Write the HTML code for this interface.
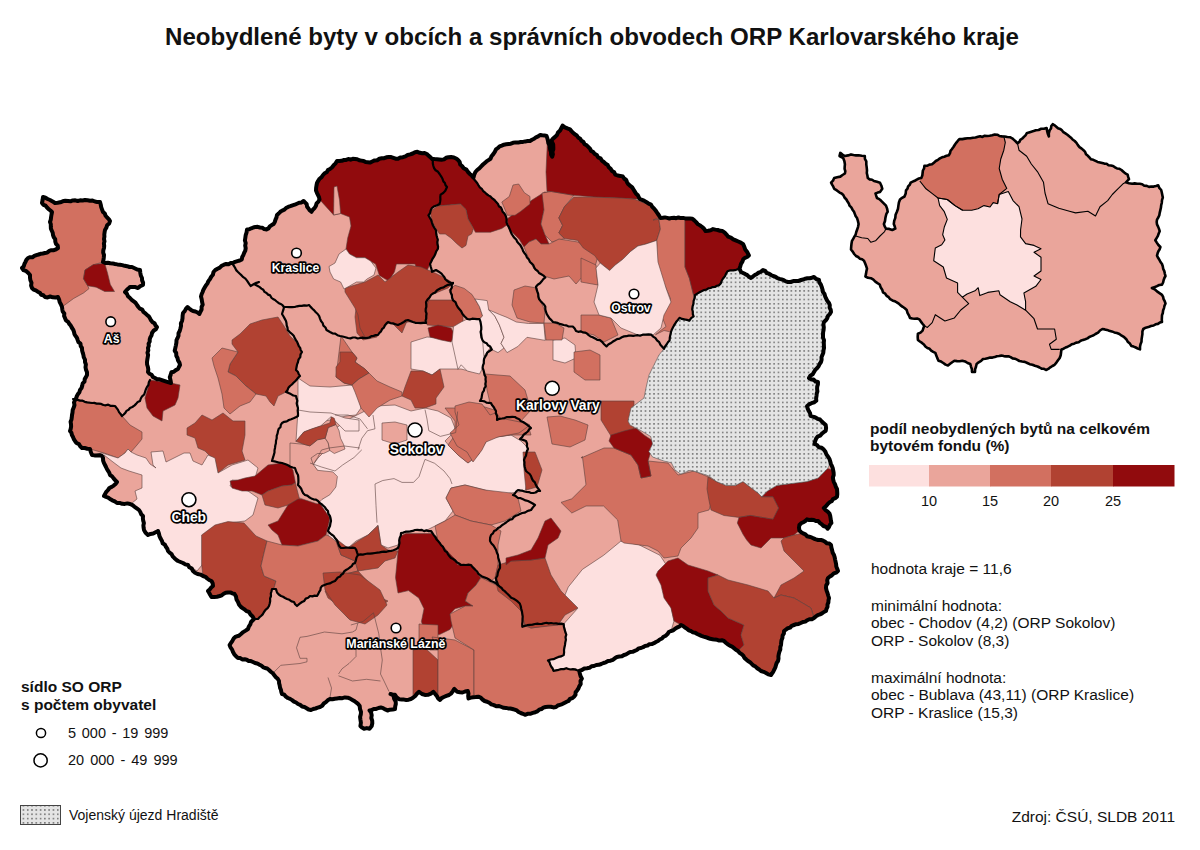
<!DOCTYPE html>
<html><head><meta charset="utf-8"><title>Neobydlené byty</title>
<style>
html,body{margin:0;padding:0;background:#fff;}
body{width:1200px;height:850px;overflow:hidden;position:relative;}
svg{position:absolute;left:0;top:0;font-family:"Liberation Sans",sans-serif;}
.cl{font-weight:bold;}
.lg{font-size:14.5px;fill:#111;}
</style></head><body>
<svg width="1200" height="850" viewBox="0 0 1200 850">
<defs><pattern id="dots" patternUnits="userSpaceOnUse" x="0.3" y="1.8" width="4.29" height="4.29"><rect width="4.29" height="4.29" fill="#e4e4e4"/><rect x="1.1" y="1.1" width="1.15" height="1.15" fill="#151515"/></pattern><clipPath id="mainclip"><polygon points="43,197 50,200 55,203 68,201 85,200 100,202 103,212 110,221 105,230 104,248 103,262 115,264 132,267 140,270 142,278 143,285 138,288 130,287 125,292 130,298 137,305 147,315 157,327 152,333 148,348 147,362 148,372 155,378 171,383 169.8,377.2 171.4,372.3 178,369 180,365 177.5,358 174.7,350.8 176.4,342.6 179.7,331 182,321 183,313 187.5,307 193,311 199.4,314 202.7,304.7 201,296.5 204.4,288 210,279 215.3,270 224,264.7 233,263 241.8,259.4 245.3,250.6 245.3,238 247,229.4 257.7,226.8 266.5,229.4 273.6,224 277,215 286,208 294.7,204.7 303.6,201 311.5,211.8 319.5,199.4 316,190.6 317,183 323,175 330,169 337,161 344,160 355,159 370,162.6 379.4,158.8 388.8,157 398,158.8 407.6,155 415,152.2 424.6,153 432,158.8 441.5,159.8 451,157 456.6,158.8 462,166 468,172 473.5,177.6 475.4,172 483,164.5 490.5,158.8 496,149.4 501.8,145.6 513,142.8 520.6,142 530,141 540,135 546.6,136 547.5,138.8 550.3,150 552.2,156.7 553.2,144.5 551.3,140.7 557,135 562.6,125.6 570,129.4 581.4,140.7 594.6,153.9 607.7,165 615.3,174.6 622.8,176.5 630.3,185.9 637.9,195.3 639.7,199 651,204.7 656.7,212.2 660.4,217.9 671.7,217.9 683,217.9 692.4,218.8 700,225.4 705.6,231 713,229.1 722.5,231 728.2,236.7 735.7,240.4 743.2,244.2 747,251.7 748.9,255.5 743.2,259.3 739.5,268.7 741,272 751,278 763,270 771,275 788,282 801,280 814,277 819,280 823,292 829,303 831,312 824,322 823,335 824,348 821,362 814,372 809,378 818,382 816.3,400.7 807,406.3 810.6,415.8 820,419.5 825.7,425 825.7,430.8 816.3,438.3 814.4,444 823.8,449.6 829.5,459 833.2,470.3 833.2,479.7 837,489 837,496.7 829.5,502.3 823.8,508 829.5,513.6 831.4,523 827.6,528.7 818.2,521 807,519.3 799.4,525 799.4,530.5 807,536.2 818.2,540 821,540 831,545 834,555 838,571 828,578 826,588 829,598 826,611 814,618 794,625 784,631 781,645 778,661 771,675 761,671 748,661 738,651 724,641 708,638 691,631 681,625 671,631 658,641 641,648 624,655 608,661 594,666 587,668.2 579.3,670.8 581.9,678.6 579.3,686.3 574,696.7 566.3,701.9 556,707 545.6,707 535.3,712.2 525,714.8 514.6,709.6 501.6,707 491.3,704.4 478.3,696.7 468.5,698.5 467.8,691 462.5,692.5 457.3,691.8 454.3,688.8 451.3,693.3 443.8,697 440,700 437,696.3 433.3,691.8 428,694.8 422,694 419,691.8 413,697.8 406.3,700 399.5,699.3 395,694.8 390.5,694 393.5,695.5 395.7,701.5 395,709 387.5,710.5 380.8,707.5 373.8,709 369.5,710.4 371.7,715.3 371.7,726 369.5,728.7 364,728.7 360.4,726 360.4,719.5 361,711.8 359.7,706 354.7,701.2 347.7,697.7 337,698.4 330,699 320,707 311,710 298,704 282,694 279,681 269,670 253,662 238,658 233,652 229.6,645 233.6,638.6 241,634 248,629 251,622 254,619 249,612 241,607 238,602 234.5,594 228,592.5 219.7,596 211.5,597 208,591 213,586 211.5,581 203,576 195,572.7 188,565 178,561 168,551 162,541 158,531 148,535 144,530 143,516 139,510 130,504 117,503 110,499 104,496 108,490 117,482 110,475 105,465 102,456 92,455 90,449 82,448 75,441 70,431 72,415 75,400 80,390 87,375 85,362 82,348 77,338 72,328 65,318 62,307 58,297 45,297 32,288 30,275 22,268 28,258 45,253 58,248 53,235 50,222 52,212 42,203"/></clipPath></defs>
<polygon points="43,197 50,200 55,203 68,201 85,200 100,202 103,212 110,221 105,230 104,248 103,262 115,264 132,267 140,270 142,278 143,285 138,288 130,287 125,292 130,298 137,305 147,315 157,327 152,333 148,348 147,362 148,372 155,378 171,383 169.8,377.2 171.4,372.3 178,369 180,365 177.5,358 174.7,350.8 176.4,342.6 179.7,331 182,321 183,313 187.5,307 193,311 199.4,314 202.7,304.7 201,296.5 204.4,288 210,279 215.3,270 224,264.7 233,263 241.8,259.4 245.3,250.6 245.3,238 247,229.4 257.7,226.8 266.5,229.4 273.6,224 277,215 286,208 294.7,204.7 303.6,201 311.5,211.8 319.5,199.4 316,190.6 317,183 323,175 330,169 337,161 344,160 355,159 370,162.6 379.4,158.8 388.8,157 398,158.8 407.6,155 415,152.2 424.6,153 432,158.8 441.5,159.8 451,157 456.6,158.8 462,166 468,172 473.5,177.6 475.4,172 483,164.5 490.5,158.8 496,149.4 501.8,145.6 513,142.8 520.6,142 530,141 540,135 546.6,136 547.5,138.8 550.3,150 552.2,156.7 553.2,144.5 551.3,140.7 557,135 562.6,125.6 570,129.4 581.4,140.7 594.6,153.9 607.7,165 615.3,174.6 622.8,176.5 630.3,185.9 637.9,195.3 639.7,199 651,204.7 656.7,212.2 660.4,217.9 671.7,217.9 683,217.9 692.4,218.8 700,225.4 705.6,231 713,229.1 722.5,231 728.2,236.7 735.7,240.4 743.2,244.2 747,251.7 748.9,255.5 743.2,259.3 739.5,268.7 741,272 751,278 763,270 771,275 788,282 801,280 814,277 819,280 823,292 829,303 831,312 824,322 823,335 824,348 821,362 814,372 809,378 818,382 816.3,400.7 807,406.3 810.6,415.8 820,419.5 825.7,425 825.7,430.8 816.3,438.3 814.4,444 823.8,449.6 829.5,459 833.2,470.3 833.2,479.7 837,489 837,496.7 829.5,502.3 823.8,508 829.5,513.6 831.4,523 827.6,528.7 818.2,521 807,519.3 799.4,525 799.4,530.5 807,536.2 818.2,540 821,540 831,545 834,555 838,571 828,578 826,588 829,598 826,611 814,618 794,625 784,631 781,645 778,661 771,675 761,671 748,661 738,651 724,641 708,638 691,631 681,625 671,631 658,641 641,648 624,655 608,661 594,666 587,668.2 579.3,670.8 581.9,678.6 579.3,686.3 574,696.7 566.3,701.9 556,707 545.6,707 535.3,712.2 525,714.8 514.6,709.6 501.6,707 491.3,704.4 478.3,696.7 468.5,698.5 467.8,691 462.5,692.5 457.3,691.8 454.3,688.8 451.3,693.3 443.8,697 440,700 437,696.3 433.3,691.8 428,694.8 422,694 419,691.8 413,697.8 406.3,700 399.5,699.3 395,694.8 390.5,694 393.5,695.5 395.7,701.5 395,709 387.5,710.5 380.8,707.5 373.8,709 369.5,710.4 371.7,715.3 371.7,726 369.5,728.7 364,728.7 360.4,726 360.4,719.5 361,711.8 359.7,706 354.7,701.2 347.7,697.7 337,698.4 330,699 320,707 311,710 298,704 282,694 279,681 269,670 253,662 238,658 233,652 229.6,645 233.6,638.6 241,634 248,629 251,622 254,619 249,612 241,607 238,602 234.5,594 228,592.5 219.7,596 211.5,597 208,591 213,586 211.5,581 203,576 195,572.7 188,565 178,561 168,551 162,541 158,531 148,535 144,530 143,516 139,510 130,504 117,503 110,499 104,496 108,490 117,482 110,475 105,465 102,456 92,455 90,449 82,448 75,441 70,431 72,415 75,400 80,390 87,375 85,362 82,348 77,338 72,328 65,318 62,307 58,297 45,297 32,288 30,275 22,268 28,258 45,253 58,248 53,235 50,222 52,212 42,203" fill="#eaa59b"/>
<g clip-path="url(#mainclip)" stroke="#5a3f3d" stroke-width="0.6" stroke-linejoin="round">
<polygon points="43,197 50,200 55,203 68,201 85,200 100,202 103,212 110,221 105,230 104,248 103,262 93,265 85,270 83.5,278.8 87.7,285.8 89,288.6 83.5,293 73.6,298.5 62,307 58,297 45,297 32,288 30,275 22,268 28,258 45,253 58,248 53,235 50,222 52,212 42,203" fill="#d27060"/>
<polygon points="85,270 93.4,264.6 104.7,263.2 107.5,273 110.3,284.4 114.5,291.5 104.7,291.5 96.2,287.2 87.7,285.8 83.5,278.8" fill="#910b0d"/>
<polygon points="75,400 92,403 115,406 122,416 130,425 142,432 142,439 137,445 131,452 128,449 125,453 118,458 104,453 90,449 82,448 75,441 70,431 72,415" fill="#d27060"/>
<polygon points="150,380 171,383 180,385 178,398 175,405 163,411 162,421 153,416 147,408 145,398 148,388" fill="#910b0d"/>
<polygon points="187,428 195,423 202,415 212,420 223,413 233,421 245,421 245,435 242,451 245,460 228,465 218,473 215,461 205,451 198,448 195,438 187,435" fill="#b14232"/>
<polygon points="92,455 102,453 118,458 125,453 128,449 131,452 137,455 146,458 150,464 156,468 153,465 151,452 163,451 166,462 184,453 190,453 193,461 202,465 208,455 215,458 218,473 232,465 248,460 258,468 255,478 245,481 232,480 230,486 248,491 258,498 253,515 245,521 228,523 215,526 203,535 208,545 215,548 205,555 202,565 197,571 188,565 178,561 168,551 162,541 158,531 148,535 144,530 143,516 139,510 130,504 117,503 110,499 104,496 108,490 117,482 110,475 105,465 102,456" fill="#fde0df"/>
<polygon points="104,455 113,462 121,468 129,471 142,475 142,482 142,488 135,491 137,499 132,503 117,503 110,499 104,496 108,490 117,482 110,475 105,465" fill="#eaa59b"/>
<polygon points="230,481 238,480 245,478 255,476 268,465 282,463 295,468 298,481 292,485 282,486 268,491 262,495 252,491 242,491 232,488" fill="#910b0d"/>
<polygon points="262,495 268,491 282,486 292,485 298,481 300,500 288,505 278,508 265,505" fill="#b14232"/>
<polygon points="268,525 278,521 288,505 298,499 318,498 325,508 330,518 326,535 318,541 298,546 282,545 278,535 272,530" fill="#910b0d"/>
<polygon points="201.6,535 215,525 228,521.6 244,523 256,536 267,541 264,553 261,566 264,576 276,581 274,588 272,589 271,596 269,606 264,612 257,619 254,619 249,612 241,607 238,602 234.5,594 228,592.5 219.7,596 211.5,597 208,591 213,586 211.5,581 203,576 201.6,564" fill="#b14232"/>
<polygon points="267,541 282,545 298,546 318,541 326,535 335,538 341,555 355,561 358,571 341,575 335,581 327,584 322,586 317,596 310,596 302,602 297,606 294,602 287,599 281,596 277,592.5 274,588 276,581 264,576 261,566 264,553" fill="#d27060"/>
<polygon points="232,340 240,334 250,324 262,320 278,317 284,326 290,336 298,344 302,352 298,362 296,370 300,376 290,386 286,392 278,396 274,406 270,402 266,396 256,394 246,386 236,376 228,372 230,364 238,352 232,344" fill="#b14232"/>
<polygon points="212,358 222,348 238,352 230,364 228,372 236,376 246,386 256,394 250,402 240,406 230,414 224,408 222,394 218,378 214,366" fill="#d27060"/>
<polygon points="318,458 331,445 336,428 351,418 365,411 375,406 395,405 411,411 425,408 438,411 451,418 455,428 451,435 445,441 451,448 458,455 468,463 478,455 488,438 511,435 521,441 528,448 528,465 528,481 525,491 511,493 498,495 485,490 465,485 451,488 446,498 453,511 445,521 435,526 425,531 415,530 401,533 398,545 388,548 381,545 378,525 368,535 356,541 348,548 338,543 328,535 330,518 321,505 318,498 323,485 328,478 318,471 313,465" fill="#fde0df"/>
<polygon points="298,378 310,386 330,387 352,385 358,392 361,408 356,415 346,416 330,420 315,423 300,420 298,410" fill="#fde0df"/>
<polygon points="411,342 427,337 440,338 452,340 455,327 463,323 477,321 482,333 490,348 484,356 482,369 469,371 461,369 440,369 432,375 423,371 411,369" fill="#fde0df"/>
<polygon points="445,408 455,408 478,405 498,411 515,421 528,425 531,435 511,435 488,438 478,455 468,463 458,455 448,445 455,435 455,421" fill="#d27060"/>
<polygon points="455,406 469,402 482,404 490,415 498,412 515,417 530,425 519,433 498,437 486,442 482,450 473,462 467,452 457,446 450,433 459,425 455,412" fill="#d27060"/>
<polygon points="451,488 465,485 485,490 511,493 518,498 521,511 505,521 491,525 471,521 455,515 453,511 446,498" fill="#d27060"/>
<polygon points="335,538 348,548 358,541 368,535 378,526 381,545 388,550 398,551 395,558 385,561 378,568 358,571 355,561 341,555" fill="#b14232"/>
<polygon points="400.7,536 405.9,533.6 431.8,533.6 450,546.6 457.6,564.7 470.6,564.7 481,577.6 475.8,585.4 468,593 465.4,601 473,606 465.4,606 455,608.7 450,614 455,621.6 450,629.4 439.5,634.6 431.8,634.6 424,629.4 421.4,621.6 424,608.7 418.8,598 408.5,590.6 398,593 395.5,577.6 398,551.8" fill="#910b0d"/>
<polygon points="325,591 335,585 341,575 358,571 371,585 381,598 388,601 378,608 371,618 358,621 348,618 338,605 328,598" fill="#b14232"/>
<polygon points="435,526 445,521 455,515 471,521 491,525 501,531 498,545 498,565 495,578 485,585 481,578 471,565 461,565 451,555 438,541" fill="#d27060"/>
<polygon points="341,336 352,352 357,358 355,362 365,369 369,373 358,379 352,385 344,383 336,377" fill="#d27060"/>
<polygon points="340,352 352,352 357,358 355,362 365,369 369,373 359,379 352,385 344,383 336,377 336,367 340,362" fill="#b14232"/>
<polygon points="352,385 359,379 369,373 377,381 390,387 402,392 402,396 390,400 377,408 369,417 361,408 355,392" fill="#d27060"/>
<polygon points="411,371 423,371 432,375 440,369 444,387 436,398 436,404 425,408 415,408 411,400 402,396 405,387" fill="#b14232"/>
<polygon points="357,300 427,300 425,321 415,319 407,321 402,333 390,321 380,323 377,337 363,340 357,333 355,317" fill="#b14232"/>
<polygon points="427,300 463,300 463,323 455,327 427,325" fill="#b14232"/>
<polygon points="428,328 438,325 451,328 455,335 451,342 441,340 430,337" fill="#910b0d"/>
<polygon points="298,410 310,412 331,413 345,418 359,420 359,431 345,431 331,416.8 320.6,426 303.8,432 296,441.3" fill="#fde0df"/>
<polygon points="290,443 303.8,444.3 309.9,445.9 317.5,439.8 325.2,438.2 328.2,442.8 329.8,450.5 323.6,453.5 317.5,453.5 311,458 313,464 317.5,470.3 332.8,471.9 337.4,476.5 335.9,487 329.8,494.8 322,499.4 317.5,504 308.3,501 299.2,497.9 296,485.6 293,470.3 290,465.7" fill="#eaa59b"/>
<polygon points="325.2,438.2 328.2,427.5 335.9,424.5 339,430.6 340.5,438.2 343.5,444.3 345,449 334.3,453.5 329.8,450.5 328.2,442.8" fill="#eaa59b"/>
<polygon points="296,441.3 303.8,432 311.4,429 320.6,426 329.8,423 331.3,416.8 334.3,418.3 335.9,424.5 328.2,427.5 325.2,438.2 317.5,439.8 309.9,445.9 303.8,444.3" fill="#b14232"/>
<polygon points="382,423 395,422 407,425 407,440 395,444 382,440" fill="#eaa59b"/>
<polygon points="323,573 340,572 360,575 380,590 387,605 378,615 365,624 350,620 335,605 325,590" fill="#b14232"/>
<polygon points="419,624 438,625 438,650 430,650 419,640" fill="#d27060"/>
<polygon points="413,650 425,648 438,660 438,705 425,705 413,705" fill="#b14232"/>
<polygon points="432,637 455,640 474,650 474,705 454,705 438,705 438,650" fill="#d27060"/>
<polygon points="481,577.6 498,586 511,595 521,605 523,615 525,626 531,628 551,625 565,625 568,638 565,651 563.7,655 556,658 548,660.5 553.4,670.8 566.3,668.2 579.3,670.8 581.9,678.6 579.3,686.3 574,696.7 566.3,701.9 556,707 545.6,707 535.3,712.2 525,714.8 514.6,709.6 501.6,707 491.3,704.4 478.3,696.7 474,695 474,650 455,638 451,621 450,614 465.4,606 473,606 465.4,601 468,593 475.8,585.4" fill="#d27060"/>
<polygon points="498,565 511,561 531,560 545,558 551,575 561,591 571,601 578,608 565,615 558,625 531,628 525,625 521,611 511,601 498,591 495,578" fill="#b14232"/>
<polygon points="506,558 518,555 531,550 538,538 545,521 551,518 561,531 558,538 548,545 545,558 531,560 511,561 506,565" fill="#910b0d"/>
<polygon points="568.3,587 582.4,569.4 603.6,555.3 621,541 638.8,544.7 660,555.3 667,566 663.6,587 670.6,604.7 674,621 671,631 658,641 641,648 624,655 608,661 594,666 587,668.2 579.3,670.8 566.3,668.2 553.4,670.8 548,660.5 556,658 563.7,655 565,645 566.3,634.6 563.7,624 578,608 571,601 565,595" fill="#fde0df"/>
<polygon points="319.5,199.4 316,190.6 317,183 323,175 330,169 337,161 344,160 355,159 370,162.6 379.4,158.8 388.8,157 398,158.8 407.6,155 415,152.2 424.6,153 432,158.8 434,168 439.6,174 443.4,181.4 447,187 445.3,190.8 440.6,194.6 439.6,204 432,207.8 428.4,215.3 432,222.8 436,230.4 437.8,239.8 437.8,249 434,256.7 430,264 426.5,271.8 417,270 415,264 396.4,264 394.5,271.8 388.8,281 379.4,275.5 375.6,264 370,261 365,257.7 356.5,257.7 349.5,254 346,249 347.7,238 351,226 349.5,217 340.6,213.5 333.6,215" fill="#910b0d"/>
<polygon points="333.6,215 334,187 337,186 339.5,200 340.6,213.5" fill="#eaa59b"/>
<polygon points="432,158.8 441.5,159.8 451,157 456.6,158.8 462,166 468,172 473.5,177.6 477.3,183.3 483,190.8 490.5,196.5 498,204 505.5,215.3 507.4,224.7 501.8,228.5 490.5,232.2 475.4,232.2 473.5,228.5 468,219 466,209.6 460.4,204 449,205 437.8,206 439.6,204 440.6,194.6 445.3,190.8 447,187 443.4,181.4 439.6,174 434,168" fill="#910b0d"/>
<polygon points="430,211.5 437.8,206 449,205 460.4,204 466,209.6 468,219 473.5,228.5 471.6,234 468,236 466,245.4 462,248 456.6,243.5 451,238 445.3,234 439.6,234 436,228.5 432,221" fill="#b14232"/>
<polygon points="507,219 519,210 532,200 544.7,192 553,193.4 544,210 541,224 546,237 549,244 541,244 536,239 529,242 524,247 519,239 509,229" fill="#910b0d"/>
<polygon points="542,193 551.3,191.5 574,195.3 564.5,206.6 558.8,217.9 562.6,225.4 558.8,233 564.5,238.6 552,242 545,235 541,224 544,210" fill="#d27060"/>
<polygon points="524,247 529,242 536,239 541,244 549,244 559,239 578,242 593,249 598,256 593,274 583,276 576,284 569,276 554,279 544,276 534,269 529,259" fill="#d27060"/>
<polygon points="449,290 455,285.3 464.2,288.4 472,294.5 479.5,306.7 482.6,316 479.5,319 467.3,319 461.2,311.3 456.6,305 452,297.5" fill="#d27060"/>
<polygon points="514,290 525,286 537,288 540,300 545,311 544,323 530,322 517,318 512,305" fill="#d27060"/>
<polygon points="475,299 487.2,300.6 488.7,309.8 494.8,316 499.4,325 504,337.3 501,343.4 504,348 498,352.6 491.8,349.5 490.2,346.5 482.6,340.4 481,325 479.5,319 482.6,316 479.5,306.7" fill="#fde0df"/>
<polygon points="488.7,309.8 499.4,314.4 507,317.4 516.3,322 528.5,323.5 543.8,323.5 545.3,340.4 527,337.3 517.8,346.5 507,352.6 504,348 501,343.4 504,337.3 499.4,325 494.8,316" fill="#fde0df"/>
<polygon points="453.5,326.6 461.2,322 467.3,319 479.5,319 481,325 481,334 482.6,340.4 484.1,358.7 482.6,368 479.5,374 467.3,371 461.2,364.8 458,369.4 452,342" fill="#fde0df"/>
<polygon points="553,340 565,338 575,345 576,358 565,363 553,360" fill="#fde0df"/>
<polygon points="574,352 590,350 600,355 600,380 585,380 574,372" fill="#d27060"/>
<polygon points="544,323 555,323 564,328 562,340 546,340" fill="#d27060"/>
<polygon points="547.5,138.8 550.3,150 552.2,156.7 553.2,144.5 551.3,140.7 557,135 562.6,125.6 570,129.4 581.4,140.7 594.6,153.9 607.7,165 615.3,174.6 622.8,176.5 630.3,185.9 637.9,195.3 639.7,199 634,199 619,198 596.5,197.2 573.9,195.3 551.3,191.5 547,191.5 546,172" fill="#910b0d"/>
<polygon points="501.8,202 509.3,196.5 513,185 518.7,184 524.4,192.7 530,196.5 530,204 520.6,211.5 515,215.3 507.4,215.3" fill="#d27060"/>
<polygon points="345,288 365,282 378,275 385,282 398,272 408,265 421,267 435,273 445,278 453,283 448,288 431,295 426,308 426,322 408,322 398,325 388,323 378,335 365,337 360,328 358,315 355,308 345,292" fill="#b14232"/>
<polygon points="329,266.5 335,263 339,254 346,249 349.5,254 356.5,257.7 365,257.7 370.6,261 376,268 374,275 367,279 363.6,282 356.5,282 349.5,286 344,289 340.6,282 333.6,279 330,272" fill="#fde0df"/>
<polygon points="558.8,217.9 564.5,206.6 574,197 596.5,197.2 619,198 634,199 653,206.6 658.6,217.9 660.4,229 656.7,240.4 645.4,244.2 637.9,246 630.3,251.7 622.8,259.3 615.3,265 609.6,270.5 600.2,263 594.6,255.5 583.3,248 577.6,240.4 564.5,238.6 558.8,233 562.6,225.4" fill="#b14232"/>
<polygon points="653,220 671,218 685,219 685,250 685,267 689.4,278.2 693.6,295.2 693.6,300.8 692.2,309.3 693.6,316.4 689.4,320.6 679.5,317.8 675.3,323.4 671,332 664,330.5 655.5,334.7 660,331 666,326.5 661.5,315.8 664.6,308 670.7,299 664.6,285.2 657,273 656.7,240.4 660.4,229 658.6,217.9" fill="#d27060"/>
<polygon points="685,219 692.4,218.8 700,225.4 705.6,231 713,229.1 722.5,231 728.2,236.7 735.7,240.4 743.2,244.2 747,251.7 748.9,255.5 743.2,259.3 739.5,268.7 736,269.8 727.5,271.2 723.3,278.2 719,285.3 710.6,288 702,291 695,295.2 693.6,295.2 689.4,278.2 685,267 685,250" fill="#910b0d"/>
<polygon points="581,258 596,265 598,285 581,282" fill="#d27060"/>
<polygon points="581,315 599,315 611,318 618,335 604,342 594,335 581,332" fill="#d27060"/>
<polygon points="596,268 600.2,263 609.6,270.5 615.3,265 622.8,259.3 630.3,251.7 637.9,246 645.4,244.2 656.7,240.4 658,262 666,288 671,302 664,315 661,328 653,335 638,335 621,328 611,318 599,315 594,302 598,285" fill="#fde0df"/>
<polygon points="581,458 604,448 614,448 631,455 638,465 641,478 651,476 648,461 668,463 678,475 694,471 711,478 708,488 713,498 709,510 698,513 698,528 691,538 681,548 678,556 664,558 658,551 648,546 624,543 621,541 617.7,520 603.6,506 586,506 571.8,513 561,502.4 571.8,498.8 586,484.7 582.4,456.5" fill="#d27060"/>
<polygon points="601,401 634,401 634,436 611,436 601,420" fill="#b14232"/>
<polygon points="611,435 624,431 636,428 644,435 653,441 651,451 648,461 651,476 641,478 638,465 631,455 614,448 609,441" fill="#910b0d"/>
<polygon points="707,489 708,477 716.6,481.6 726,485.4 735.4,485.4 743,481.6 750.4,487.3 758,493 761.7,496.7 773,496.7 778.7,508 773,519.3 761.7,517.4 750.4,515.5 739,517.4 724,515.5 711,510 709,500.4" fill="#b14232"/>
<polygon points="761.7,496.7 767.4,491 776.8,485.4 791.8,483.5 807,481.6 818.2,478 827.6,468.4 833.2,470.3 833.2,479.7 837,489 837,496.7 829.5,502.3 823.8,508 829.5,513.6 831.4,523 827.6,528.7 818.2,521 807,519.3 799.4,525 799.4,530.5 794,535 784,538 771,538 761,548 751,545 746.7,540 743,534.3 737.3,523 739,517.4 750.4,515.5 761.7,517.4 773,519.3 778.7,508 773,496.7" fill="#910b0d"/>
<polygon points="784,538 794,535 804,533 821,538 831,545 834,555 838,571 828,578 826,588 829,598 826,611 814,618 811,608 794,598 781,595 774,598 781,585 794,578 804,571 794,561 784,551 781,541" fill="#b14232"/>
<polygon points="658,571 668,561 678,558 688,565 698,568 708,571 718,575 708,578 708,591 714,605 721,611 728,618 744,625 741,635 744,645 738,651 724,641 708,638 691,631 681,625 674,621 671,608 664,598 661,585 656,575" fill="#910b0d"/>
<polygon points="708,578 718,575 728,580 748,585 768,591 774,598 781,595 794,598 811,608 814,618 794,625 784,631 781,645 778,661 771,675 761,671 748,661 738,651 744,645 741,635 744,625 728,618 721,611 714,605 708,591" fill="#b14232"/>
<polygon points="513,405 525,403 528,410 521,420 514,418" fill="#d27060"/>
<polygon points="523,452 535,452 542,470 537,487 526,490 524,470" fill="#b14232"/>
<polygon points="485,374 510,376 525,390 531,410 520,422 500,418 490,403 487,390" fill="#d27060"/>
<polygon points="547,417 560,416 575,420 588,425 585,440 570,447 552,444" fill="#d27060"/>
</g>
<g fill="none" stroke="#5a3f3d" stroke-width="0.6" stroke-linejoin="round">
<polyline points="377,522.7 376,505.4 375,484 382.8,480.5 394,478.6 402,482.4 413.5,482.4 419,476.7 423,465 425,459.4 434.6,463.3 444,471 450,478.6 452,484"/>
<polyline points="310,463 321.5,467 335,471 342.6,465 354,457.5 361.8,449.8"/>
<polyline points="373,415 375,428.8 367.5,430.7 361.8,438.3 358,449.8"/>
<polyline points="425,409.6 427,419 428.8,430.7 440.3,436.4 448,434.5 455.7,432.6 457.6,411.5"/>
<polyline points="335,415 348,415 360,419 367.5,428.8"/>
<polyline points="314,463 317.7,457.5 321.5,450 329,448 344.5,446 359.8,448"/>
<polyline points="273.8,672.3 280.8,665.3 300,663.5 307,661.8 307,658.3 300,658.3 296.5,647.8 300,637.3 307,636.4 324.5,632 342,633.8 352.5,632 356,630 357.8,623.3"/>
<polyline points="350.8,625 363,621.5 373.5,612.8 378.8,633.8 380.5,647.8 382.3,660 380.5,674 384,681 389,691.5"/>
<polyline points="338.5,674 342,668.8 349,663.5 356,656.5 356,649.5 357.8,642.5"/>
<polyline points="338.5,675.8 352.5,681 366.5,679.3 380.5,681"/>
<polyline points="328,677.5 331.5,688 329.8,698.5"/>
</g>
<polygon points="739.5,268.7 741,272 751,278 763,270 771,275 788,282 801,280 814,277 819,280 823,292 829,303 831,312 824,322 823,335 824,348 821,362 814,372 809,378 818,382 816.3,400.7 807,406.3 810.6,415.8 820,419.5 825.7,425 825.7,430.8 816.3,438.3 814.4,444 823.8,449.6 829.5,459 829,466 827.6,468.4 818.2,478 807,481.6 791.8,483.5 776.8,485.4 767.4,491 761.7,496.7 758,493 750.4,487.3 743,481.6 735.4,485.4 726,485.4 716.6,481.6 709,476 697.7,472.2 690.2,470.3 680.8,474 675.2,470.3 671.4,462.8 663.9,461 652.6,457 648.8,451.5 652.6,444 650.7,436.5 641.3,430.8 630,425 628,421 631,408 644,398 646,388 649,375 654,365 659,355 664,348.8 669.6,340.4 671,332 675.3,323.4 679.5,317.8 689.4,320.6 693.6,316.4 692.2,309.3 693.6,300.8 695,295.2 702,291 710.6,288 719,285.3 723.3,278.2 727.5,271.2 736,269.8" fill="url(#dots)" stroke="#555" stroke-width="0.6"/>
<g fill="none" stroke="#000" stroke-width="2.2" stroke-linejoin="round" stroke-linecap="round">
<polyline points="73,399 75.4,399.6 77.8,399.9 80.1,400.6 82.6,400.7 84.8,401.8 87.2,402.3 89.6,402.7 92,403 94.3,402.9 96.6,403.6 98.9,403.7 101.2,403.9 103.4,405 105.7,405.3 108.2,404.6 110.3,405.8 112.7,405.8 115,406 116.5,407.9 118,409.9 119,412.1 120.6,414 122,416 123.7,414.5 125.3,412.9 126.5,410.9 128.6,409.8 130,408 132.3,407 134.3,405.6 136.1,403.9 137.7,402 140,401 140.8,398.5 142.1,396.3 144.2,394.5 145,392 145.8,389.5 146.9,387.1 148.4,385 148.8,382.3 150,380"/>
<polyline points="233,264.7 234.3,266.5 235.4,268.4 236.4,270.4 238,272 239.8,273.7 241.6,275.4 243.3,277.2 245.4,278.6 247,280.6 248.8,283.3 250.6,286 254,284 256.6,283.1 259,282 256.4,282.7 254,284 257.7,286 259.7,287.1 261.4,288.6 263.3,289.8 264.5,291.9 266.5,293 268.1,294.6 270.2,295.4 271.3,297.6 273,299 275,300 276.7,301.5 278.5,302.9 280.6,303.9 282.5,305.2 284,307"/>
<polyline points="284,307 286.7,307 289.4,307.2 292,307.2 294.7,307 297,306.3 299.4,305.8 301.8,305.9 304.2,305.4 306.7,305.7 309,305 310.6,306.9 312.4,308.7 314.2,310.4 315.8,312.3 317.7,314 319.2,316.2 320,318.6 321,321 322.7,323.1 323.4,325.7 325.5,327.5 326.5,330 330,332 332.4,333.3 335.2,333.6 337.4,335.2 340,336 342.7,336.5 345.4,337.2 348,338 350.4,338.4 352.9,337.5 355.3,337.5 357.7,338.5 360.1,338 362.6,337.6 365,338 367.3,338 369.4,337.5 371.4,336.1 373.6,335.9 375.7,335.1 378,335 379.3,333 381,331.4 382,329.2 383.9,327.7 384.8,325.4 386.3,323.6 388,322 390.4,323.1 393,323.4 395.5,324.2 398,325 400,324.1 402,323 403.9,321.9 405.8,320.5 408,320 410.4,321 412.9,322 415.3,322.8 418,323 420.7,323.2 423.3,322.8 426,323"/>
<polyline points="432,158.8 432.8,161 432.8,163.4 433.3,165.7 434,168 435.6,170.3 438,171.8 439.6,174 441.1,176.3 442.5,178.8 443.4,181.4 444.9,183.1 445.6,185.3 447,187 445.3,190.8 443.2,193 440.6,194.6 440.3,196.9 440.4,199.3 440.1,201.7 439.6,204 437.1,205.3 434.4,206.2 432,207.8 430.7,210.2 430.1,213 428.4,215.3 429.8,217.7 431.2,220.1 432,222.8 433,225.5 434.4,228 436,230.4 436.1,232.8 436.5,235.2 437.1,237.5 437.8,239.8 437.3,242.1 437.5,244.4 438.1,246.7 437.8,249 436.2,251.4 435.3,254.1 434,256.7 432.4,259 431.3,261.5 430,264 430.7,266.6 431.5,269.2 432,271.8 436,270 438.8,271.7 441.5,273.6 442.9,275.4 444.4,277.2 445.3,279.3 447,280.8 448.9,282 451,283 453,283"/>
<polyline points="426,323 425.6,320.7 426.2,318.3 426.2,316 426.5,313.7 425.7,311.3 425.7,309 426.3,306.7 426.2,304.3 426,302 427.5,299.5 429.5,297.5 431,295 432.9,293.5 435.2,292.5 436.8,290.5 438.8,289.2 441,288 443.6,287.4 445.7,285.9 448.1,284.8 450.7,284.3 453,283"/>
<polyline points="453,283 451.7,285.2 451.8,287.8 450.5,290 450.7,292.6 451.9,294.9 452,297.5 453.1,300.3 455.5,302.2 456.6,305 457.8,307.3 459.5,309.3 461.2,311.3 462.4,313.9 464.2,316 467.3,319 469.7,319.5 472.2,318.7 474.6,318.8 477.1,319.2 479.5,319 480.5,321.9 481,325 481.3,327.2 481.3,329.5 480.6,331.8 481,334 481.4,337.3 482.6,340.4 484.3,342.2 486.6,343.2 488,345.3 490.2,346.5 491.8,349.5 489.5,351 487.2,352.6 486.4,354.8 485.2,356.7 484.1,358.7 483.8,361 483.8,363.4 482.9,365.7 482.6,368 483.5,370.2 484.1,372.5 484.5,374.9 485.7,377 485.5,379.3 485.8,381.6 485.3,384 485.7,386.3 484.3,388.3 483.9,390.7 482.5,392.6 482,395 481.5,398.2 480,401 482.3,401 484.5,401.4 486.5,402.7 488.8,402.8 491,403 492,405.1 493.7,406.9 494.8,409 496,411 495.8,413.3 496.9,415.5 497.2,417.7 497,420 499.4,418.8 502,418.5 504.6,418.1 507,417 509.7,417.1 512.3,416.9 515,417 517,418.3 519.2,419.2 520.7,421.2 523,422 525.1,423.4 527.2,424.8 529.1,426.3 531,428 529.1,429.4 527.8,431.5 526,433 523.7,434.7 522.1,437.1 520,439 523,439.9 526,441 527.1,443.6 526.9,446.4 528,449 526.9,451.1 526.4,453.4 526,455.7 524.8,457.8 524,460 524.5,462.2 524.4,464.5 524.7,466.7 525.3,468.8 526,471 527.8,472.5 529.7,474 531,476 531.8,478.4 533,480.6 534.9,482.4 535.8,484.8 537,487 538.5,489 540,491 537.6,491 535.6,492.5 533.4,493 531,493 528.9,492.1 526.7,491.9 524.5,491.5 522.4,490.7 520.2,490.4 518,490 516.2,491.5 514.9,493.5 513,495 515.7,496.1 518,498 520.7,498.2 523.1,499.3 525.5,500.4 528,501 530.4,502.2 532.7,503.5 535,505 532.9,507.4 531,510 528.8,510.6 526.6,511.6 524.6,512.7 522.2,513 520,513.9 518,515 515.8,515.8 513.8,517 512.3,519.1 509.9,519.6 508,521 506.1,522.5 504.1,523.9 502,525.2 500.2,526.9 498,528 496.4,529.9 494.1,531.1 492.9,533.4 491,535 490.1,537.9 490,541 491.5,543.5 493.5,545.5 495,548 496.2,550.3 496.9,552.7 498,555 498.2,557.6 499,560.2 499.7,562.7 500,565.3 500,568 498.6,570.4 497.8,572.9 497.4,575.7 496,578 496.3,580.4 497.3,582.7 498,585"/>
<polyline points="284,307 283.5,309.4 282.7,311.7 282,314 283.4,316.3 284.7,318.6 286,321 286.5,323.2 286.7,325.5 287.5,327.7 287.7,330 289.7,332.1 292,334 293.7,335.7 294.6,337.9 295.8,339.9 297.1,341.8 298,344 298.8,346.1 300.2,347.9 300.7,350.1 302,352 300.5,354.3 300.3,357.1 298.6,359.3 298,362 297,364.6 296.5,367.3 296,370 297.8,371.7 298.7,374 300,376 298.2,377.6 296.8,379.5 295.2,381.2 293.5,382.8 291.9,384.5 290,386 288.4,387.8 287.5,390.1 286,392 288.5,392.9 290.9,394.1 293.3,395.5 296,396 296.6,398.4 297.3,400.7 296.7,403.3 297.2,405.7 298,408 297.7,410.7 298,413.3 298,416 295.8,417.3 293.6,418.3 291.2,419.2 288.9,420 286.8,421.4 284.2,421.8 282,423 280.8,424.9 280.5,427.2 278.7,428.8 278,431 277.6,433.4 276.7,435.8 276.7,438.3 276,440.7 275.9,443.2 275.3,445.5 275,448 274.5,450.2 274.5,452.5 273.9,454.6 273.3,456.7 272.6,458.9 272,461 274.5,461.4 277,462 279.5,462.7 282,463 284.2,463.7 286.4,464.5 288.5,465.5 290.5,466.8 292.7,467.5 295,468 295.8,470.4 296.7,472.8 298,475 298.3,477.5 298.4,480 298.4,482.5 298,485 299.7,486.8 301.2,488.7 302.1,491.1 303.2,493.3 305,495 307.3,495.6 309.2,497.2 311.3,498.4 313.5,499.3 316,499.7 318,501 319.6,502.8 321.5,504.1 323.3,505.7 325,507.3 326.3,509.4 328,511 328.3,513.6 329.9,515.9 330.6,518.4 331,521 330.4,523.5 330,526.1 328.8,528.5 328,531 329.6,532.9 331.5,534.5 333.6,535.9 335,538 336.6,539.7 337.7,541.8 338.4,544.1 339.4,546.2 341,548 343.3,548 345.7,547.6 348,547.7 350.3,547.9 352.7,547.6 355,548 356.4,550.2 357.1,552.6 358,555"/>
<polyline points="254,619 258,619 259.5,617.3 261.3,615.7 262.9,614.1 264,612 265.5,609.9 267.6,608.2 269,606 269.7,603.5 270.2,601 270.1,598.4 271,596 270.8,593.6 271.5,591.3 272,589 276,589 277,592.5 278.8,594.5 281,596 283.1,596.8 285,598 287,599 289.4,599.8 291.5,601.4 294,602 295.1,604.3 297,606 299.4,603.9 302,602 304.3,600.9 305.7,598.6 308.2,597.8 310,596 312.3,596.4 314.7,595.6 317,596 318.2,594.1 319.1,592 320.4,590.2 320.7,587.9 322,586 324.5,585 327,584 329.8,583.4 332.4,582.1 335,581 336.4,579.3 337.8,577.5 340.1,576.6 341.3,574.7 343.2,573.5 344.1,571.3 346,570 348,568.9 349.8,567.5 351.7,566.2 352.9,564 355,563 355.9,560.3 356.5,557.5 358,555"/>
<polyline points="358,555 360.4,554.4 362.9,554.6 365.3,554 367.7,553.5 370.1,553.6 372.6,553.3 375,553 377.3,552.7 379.6,552.4 381.8,551.9 384.1,551.6 386.5,551.8 388.7,551.1 391,551 393.4,550.2 395.8,549.3 398,548 398.9,545.6 399.5,543.1 399.2,540.4 399.7,537.9 400.8,535.6 401,533 403.4,532.6 405.6,531.7 408,531.7 410.4,531.4 412.7,530.9 415,530 417.3,529.8 419.6,530.1 421.9,529.9 424.1,531.1 426.4,530.4 428.7,531.1 431,531 432.4,533 433.8,535.1 435.3,537 436.4,539.2 438.1,541.1 439.7,542.9 441,545 442.8,546.6 443.9,548.7 444.9,550.9 447,552.2 448,554.4 449.5,556.2 451,558 453.2,559.1 455.2,560.5 456.9,562.4 459,563.5 461,565 463.5,564.9 466,565 468.5,564.6 471,565 472.3,566.8 473.9,568.4 475.5,570 477.1,571.5 478.2,573.6 480,575 482,576.5 484.4,577.4 486.8,578.2 489,579.5 491,581 493.5,582 495.9,583.3 498,585"/>
<polyline points="498,585 499.7,586.6 501.6,588 502.9,589.8 504.7,591.1 506.3,592.7 507.9,594.2 509.4,595.8 511.2,597.8 513.7,598.7 515.9,600.1 517.9,601.7 519.8,603.5 520.7,606 521.2,608.7 521.9,611.2 522.3,613.9 522.7,616.5 522.5,619.1 522.5,621.6 522.2,624.2 522.3,626.8 524.8,625.9 527.3,625.2 529.8,624.8 532.5,624.6 535,624 537.3,623.7 539.6,624 541.9,623.9 544.1,623.3 546.4,622.8 548.7,623.4 551,623 553.5,623.5 556.1,623.3 558.6,623.8 561.2,623.6 563.7,624 563.9,626.8 564.6,629.4 565.3,632 566.3,634.6 565.5,637.1 565.9,639.8 565.3,642.4 565,645 564.4,647.5 564,650 564.1,652.5 563.7,655 561.3,656.4 558.5,656.9 556,658 553.5,659.2 550.6,659.5 548,660.5 549.6,662.3 550.2,664.6 551.3,666.7 552.7,668.5 553.4,670.8 556,670.3 558.6,669.8 561.1,669.1 563.8,669.1 566.3,668.2 568.4,669 570.5,669.5 572.9,669.2 575.1,669.4 577.2,670.2 579.3,670.8"/>
<polyline points="473.5,177.6 474.4,179.7 475.9,181.5 477.3,183.3 478.5,185.4 479.8,187.3 481.8,188.8 483,190.8 484.8,192.3 486.5,194 488.4,195.4 490.5,196.5 492.3,198.4 494.5,200 496.2,202.1 498,204 498.8,206.2 500.9,207.5 501.9,209.5 502.6,211.8 504.3,213.4 505.5,215.3 506.3,217.6 506.6,220 506.5,222.4 507.4,224.7 508.7,226.9 509.7,229.2 510.6,231.5 511.6,233.9 513,236 514.4,237.9 516.2,239.5 517.2,241.7 518.7,243.5 520.3,245.1 521.4,247.1 522.4,249 523.1,251.2 524.4,253 526,255.1 527,257.6 528.9,259.6 530,262 531.8,263.6 533.4,265.3 534.3,267.6 535.7,269.6 537.7,271 539,273 541.3,274.3 543.5,275.6 545.3,277.5 543.3,279.2 541.7,281.3 540,283.3 537.7,284.7 536,286.7 536.5,289.2 537.3,291.6 538.2,294 538.3,296.6 539,299 540.5,300.9 542.2,302.8 544,304.5 545.3,306.6 545.3,309.2 545.9,311.7 546.8,314.2 548.2,316.3 549.5,318.4 551.4,320.1 553,322 555.2,322.4 557.4,322.8 559.4,323.9 561.6,324.4 563.7,325 566,325.3 568.2,326.3 570.5,326.5 572.8,326.5 574.7,328.5 576,331 578.2,331.8 580.6,331.3 582.7,332.4 585,332.6 587,333.6 588.7,335.1 590.5,336.5 592.7,337.2 595,338.4 597.2,339.8 599.9,340.2 602,341.8 604.1,344.2 606.5,346.4 608.3,344.5 610.5,343.3 612.6,341.8 614.8,340.5 617,339.1 619.6,338.6 621.8,337.2 624,336.4 626.4,336.2 628.6,335.6 631,335.7 633.2,335.9 635.5,335.5 637.8,335.2 640,335.7 642.7,334.7 645.6,334.7 648.5,334.4 651.3,334.7 653.2,336.6 655.5,338.1 657,340.4 659.2,342.2 660.4,344.7 662.2,346.7 664,348.8 665.1,346.5 666.6,344.5 667.9,342.3 669.6,340.4 669.8,337.6 670.4,334.8 671,332 671.8,329.7 672.9,327.6 674,325.4 675.3,323.4 676.5,321.4 678.1,319.7 679.5,317.8 681.9,318.9 684.4,319.4 686.9,319.8 689.4,320.6 691.1,318.1 693.6,316.4 692.8,314.1 692.8,311.6 692.2,309.3 692.6,306.4 693.5,303.7 693.6,300.8 694.7,298.1 695,295.2 697.2,293.6 699.6,292.3 702,291 704.1,290 706.4,289.7 708.3,288.3 710.6,288 712.6,287.1 714.9,287 716.9,285.8 719,285.3 720.9,283.2 721.8,280.5 723.3,278.2 725,276.1 726.1,273.5 727.5,271.2 730.3,270.3 733.2,270.4 736,269.8 739.5,268.7"/>
</g>
<polygon points="43,197 45.5,197.7 47.6,199 50,200 52.6,201.4 55,203 57.6,202.7 60.2,202.3 62.7,201.3 65.3,200.8 68,201 70.5,201.3 72.8,200.4 75.3,200.3 77.7,201 80.1,200.3 82.6,200.5 85,200 87.5,200.3 90,200.8 92.6,200.6 95,201.5 97.4,202.1 100,202 100.7,204.5 101.2,207.1 102.1,209.6 103,212 104.8,213.5 105.6,215.8 107.1,217.5 108.8,219.1 110,221 109.2,223.5 107.1,225.3 106.3,227.8 105,230 104.6,232.2 104.3,234.5 104.4,236.7 104,239 104.5,241.3 103.9,243.5 104.2,245.8 104,248 103.3,250.3 103.2,252.6 104,255 103.8,257.4 103.5,259.7 103,262 105.3,263 107.8,262.7 110.2,263.3 112.6,263.4 115,264 117.4,264.4 119.9,264.7 122.3,265.1 124.7,265.8 127.1,266.2 129.5,267 132,267 134.6,268.2 137.2,269.5 140,270 140.3,272.8 140.8,275.5 142,278 142.1,280.4 143.1,282.6 143,285 140.3,286.1 138,288 135.4,287.1 132.7,286.9 130,287 128.3,288.6 126.5,290.2 125,292 126.9,293.8 128,296.3 130,298 131.7,299.8 133.7,301.3 135.6,302.9 137,305 138.4,307 139.9,308.7 142.3,309.7 143.4,311.9 145.4,313.3 147,315 148.8,316.4 150,318.3 151,320.3 152.4,322.1 154.6,323.2 155.5,325.4 157,327 155.8,329.3 153.5,330.8 152,333 151.6,335.2 150.4,337.2 149.7,339.3 149.7,341.6 148.6,343.6 148.8,345.9 148,348 148.3,350.4 147.5,352.7 148.1,355 147.7,357.4 147.3,359.7 147,362 147.1,364.5 147.9,367 148.3,369.4 148,372 149.5,373.8 151.6,374.8 152.9,376.9 155,378 157.1,379.2 159.6,379.3 161.9,380.1 164.1,380.9 166.4,381.7 168.7,382.4 171,383 170.5,380.1 169.8,377.2 170.7,374.8 171.4,372.3 173.8,371.7 175.8,370.1 178,369 178.9,367 180,365 179.4,362.6 178,360.4 177.5,358 176.3,355.7 176.2,353 174.7,350.8 175.3,348.1 175.9,345.3 176.4,342.6 176.5,340.1 177.6,337.9 178.5,335.7 178.5,333.2 179.7,331 180.4,328.5 181,326 180.9,323.4 182,321 182.5,318.4 182.6,315.7 183,313 184.7,311.1 185.9,308.9 187.5,307 189.2,308.5 191,309.9 193,311 195.4,311.5 197.5,312.5 199.4,314 200.4,311.7 201.6,309.5 201.6,306.9 202.7,304.7 202.1,302 201.7,299.2 201,296.5 201.6,294.3 202.5,292.2 203.3,290 204.4,288 205.7,285.7 207.3,283.6 208.4,281.1 210,279 211.2,276.7 212.9,274.7 213.5,272 215.3,270 217.5,268.7 219.8,267.6 221.7,265.8 224,264.7 226.2,263.9 228.6,264.2 230.7,263.1 233,263 235.1,261.8 237.4,261.1 239.7,260.5 241.8,259.4 242.2,257 243.4,254.9 244.2,252.7 245.3,250.6 245.7,248.1 245.2,245.6 245.7,243 244.9,240.5 245.3,238 245.7,235.1 246.6,232.3 247,229.4 249.2,229.3 251.3,228.3 253.3,227.5 255.5,226.9 257.7,226.8 259.9,227.5 262.2,227.7 264.2,229.1 266.5,229.4 268.5,228.4 269.8,226.4 271.7,225.1 273.6,224 274.8,221.9 275.5,219.6 276.5,217.4 277,215 278.7,213.5 280.3,211.8 282.2,210.6 284.4,209.7 286,208 288.1,206.9 290.3,206.2 292.5,205.4 294.7,204.7 296.9,203.7 299.1,202.7 301.6,202.4 303.6,201 305.2,202.6 306.7,204.2 307.1,206.7 308.5,208.5 309.7,210.3 311.5,211.8 312.8,209.7 314.6,208 315.9,205.9 316.6,203.4 318.4,201.6 319.5,199.4 319,197.1 317.9,194.9 316.9,192.8 316,190.6 316.1,188 316.5,185.5 317,183 318.2,180.8 319.6,178.7 321.6,177.1 323,175 324.6,173.3 326.7,172.3 327.9,170.1 330,169 332.1,167.3 333.7,165.2 335.6,163.3 337,161 339.4,161.1 341.7,160.8 344,160 346.2,159.9 348.3,159 350.6,159.7 352.8,158.8 355,159 357.2,159.3 359.2,160.2 361.4,160.6 363.6,161 365.6,162.1 367.8,162.2 370,162.6 372.3,161.5 374.6,160.4 377.2,160.2 379.4,158.8 381.7,158.3 384.2,158.2 386.4,157.3 388.8,157 391.2,157.1 393.4,157.9 395.6,158.7 398,158.8 400.3,157.5 402.9,157.2 405.4,156.4 407.6,155 410.2,154.4 412.7,153.5 415,152.2 417.4,151.8 419.8,152.8 422.2,153.2 424.6,153 426.8,154 428.5,155.7 430.3,157.1 432,158.8 434.4,159.1 436.8,159.2 439.1,159.5 441.5,159.8 444,159.4 446.1,157.8 448.5,157.2 451,157 453.9,157.5 456.6,158.8 458.3,160.3 459.7,162.1 460.2,164.5 462,166 463.7,168.3 466.4,169.6 468,172 469.8,173.9 471.8,175.6 473.5,177.6 474.2,174.7 475.4,172 477.2,170 479.3,168.4 481.2,166.4 483,164.5 484.8,162.9 486.5,161.4 488.5,160.1 490.5,158.8 491.5,156.2 493.3,154.1 494.8,151.9 496,149.4 497.9,148 499.6,146.4 501.8,145.6 503.9,144.7 506.2,144.3 508.6,144 510.8,143.7 513,142.8 515.5,142.4 518.1,142.6 520.6,142 523,141.9 525.3,141.4 527.6,141.1 530,141 532,139.8 534.1,138.8 536,137.3 538.1,136.4 540,135 542.2,135.3 544.4,135.4 546.6,136 547.5,138.8 548,141.1 548.4,143.3 549.7,145.4 549.8,147.7 550.3,150 551,152.2 551.1,154.6 552.2,156.7 552.9,154.3 552.4,151.8 553.3,149.4 553.3,147 553.2,144.5 551.3,140.7 553,138.6 555.1,136.9 557,135 558,132.4 560.1,130.5 561.4,128 562.6,125.6 564.9,127.3 567.4,128.4 570,129.4 571.5,131.2 573.1,132.8 574.8,134.3 576.8,135.5 578.1,137.5 580.2,138.7 581.4,140.7 583.4,142 584.5,144.2 586.7,145.3 588.3,147 590,148.6 591,150.9 593.2,152 594.6,153.9 596.8,155 598.1,157.4 600.5,158.3 601.8,160.6 603.8,162 605.6,163.7 607.7,165 608.8,167.3 610.7,168.9 612,171 614.2,172.3 615.3,174.6 617.7,175.5 620.3,175.9 622.8,176.5 624.1,178.5 626.2,180 627.1,182.3 628.4,184.3 630.3,185.9 632.2,187.4 633.5,189.5 634.8,191.6 636.1,193.7 637.9,195.3 639.7,199 642.1,199.9 644.4,200.9 646.6,202.2 648.7,203.7 651,204.7 652.2,206.8 654,208.4 655.4,210.2 656.7,212.2 658,214 659.3,215.9 660.4,217.9 662.7,217.8 664.9,217.4 667.2,217.9 669.4,218.5 671.7,217.9 674,217.8 676.2,218.2 678.5,217.5 680.7,218.1 683,217.9 685.3,218.4 687.7,218.6 690,218.6 692.4,218.8 694.3,220.4 696.1,222.2 697.8,224.1 700,225.4 702.2,227 704.1,228.8 705.6,231 708.1,230.7 710.7,230.2 713,229.1 715.4,229.6 717.8,230 720.1,230.8 722.5,231 724.7,232.6 726.5,234.6 728.2,236.7 730.9,237.6 733.2,239.3 735.7,240.4 738.3,241.5 740.8,242.6 743.2,244.2 744.3,246.8 745.2,249.4 747,251.7 748.9,255.5 747.1,257 745,257.8 743.2,259.3 742.4,261.7 741,263.8 740.3,266.3 739.5,268.7 741,272 743.1,273 745.2,274.1 747.3,275.1 749,276.8 751,278 752.9,276.5 754.8,275 756.9,273.9 758.9,272.5 761.2,271.6 763,270 765.2,270.9 766.7,273 769,273.7 771,275 773.1,276 775.3,276.7 777.2,278 779.4,278.9 781.6,279.4 783.8,280.2 785.8,281.4 788,282 790.7,282 793.2,281.1 795.8,281.1 798.5,280.9 801,280 803.2,279.5 805.3,278.7 807.4,278.2 809.7,278.3 811.9,277.7 814,277 816.2,279 819,280 819.4,282.5 820.9,284.7 821.8,287.1 822.5,289.5 823,292 824.5,294 825.2,296.5 826.2,298.8 827.4,301 829,303 829.8,305.2 829.6,307.6 830.7,309.7 831,312 829.7,314.1 828,315.8 827.2,318.3 825.8,320.3 824,322 823.4,324.6 823.8,327.2 823.6,329.8 823.1,332.4 823,335 823,337.6 824,340.2 823.8,342.8 823.9,345.4 824,348 823.5,350.3 823.3,352.7 822.4,355 821.5,357.2 821.6,359.7 821,362 819.6,364 818.6,366.3 817,368.2 815.2,369.9 814,372 812.7,374.3 810.3,375.7 809,378 811.1,379.4 813.7,379.6 815.5,381.5 818,382 817.9,384.4 817.2,386.6 817.1,389 817.4,391.4 816.7,393.7 816.5,396 816.1,398.3 816.3,400.7 814.1,402.3 811.5,403.2 809,404.4 807,406.3 807.7,408.7 808.8,411.1 810.1,413.3 810.6,415.8 813,416.7 815.4,417.5 817.6,418.8 820,419.5 821.8,421.5 823.7,423.2 825.7,425 826.1,427.9 825.7,430.8 823.7,432.2 821.8,433.7 820.3,435.6 817.9,436.4 816.3,438.3 815.2,441.1 814.4,444 817,445 818.8,447.2 821.7,447.8 823.8,449.6 825.4,451.8 826.4,454.4 828,456.7 829.5,459 830.2,461.3 830.8,463.6 831.8,465.8 832.7,468 833.2,470.3 833.6,472.6 833.7,475 832.9,477.4 833.2,479.7 833.9,482.1 835.1,484.4 835.8,486.8 837,489 837.2,491.6 837.3,494.1 837,496.7 835.2,498.2 833,499.1 831.7,501.3 829.5,502.3 827.6,504.2 825.9,506.3 823.8,508 825.5,510.1 827.7,511.6 829.5,513.6 830.2,515.9 830.6,518.3 830.9,520.7 831.4,523 829.9,524.7 829,526.9 827.6,528.7 826,526.8 823.5,526 821.8,524.3 819.8,522.9 818.2,521 815.9,521.1 813.8,520 811.5,519.7 809.2,520 807,519.3 805.3,521 803.3,522.2 801.1,523.3 799.4,525 799,527.8 799.4,530.5 801.1,532.2 803.1,533.4 805.4,534.4 807,536.2 809.3,536.8 811.6,537.4 813.7,538.5 815.9,539.3 818.2,540 821,540 823.2,540.7 825.1,541.7 826.8,543.3 829.3,543.5 831,545 831.4,547.6 832.1,550.1 832.7,552.7 834,555 834.7,557.3 835.1,559.6 835.6,561.9 836.1,564.2 836.3,566.6 837.2,568.8 838,571 836.1,572.6 833.8,573.4 832,575.2 829.9,576.5 828,578 827.2,580.4 827.6,583.1 826.2,585.4 826,588 826.6,590.6 827.5,593 828.2,595.5 829,598 828.5,600.2 828.4,602.4 827.5,604.5 827.5,606.8 826.5,608.8 826,611 823.9,612 822,613.4 820,614.4 817.7,615.2 815.8,616.4 814,618 811.9,619.2 809.4,619.2 807.3,620.2 805.3,621.6 802.9,622 800.8,623 798.6,623.9 796.2,624.2 794,625 791.7,625.8 790.1,627.6 787.8,628.2 785.9,629.6 784,631 783.9,633.4 782.6,635.6 782.4,638 781.5,640.2 781.2,642.6 781,645 780.3,647.2 780.3,649.6 779.4,651.8 778.8,654 778.4,656.3 778.5,658.7 778,661 776.7,662.9 776,665 775.4,667.2 774.5,669.2 773.5,671.2 772.3,673.2 771,675 768.3,674.4 766,673 763.6,671.8 761,671 759.2,669.5 757.2,668.2 755.5,666.6 753.4,665.5 751.7,663.9 750,662.2 748,661 746.2,659.4 744.4,657.9 743.3,655.7 741.5,654.1 739.6,652.8 738,651 735.9,649.7 734,648.1 732.1,646.6 729.8,645.6 727.7,644.3 725.8,642.7 724,641 721.8,640.2 719.3,640.6 717.1,639.8 714.8,639.6 712.5,639.2 710.2,638.8 708,638 705.8,637.2 703.6,636.6 701.4,635.9 699.3,634.9 697.2,634 695.2,632.8 692.9,632.4 691,631 688.7,630.3 687,628.7 684.9,627.5 683.1,626 681,625 679.3,626.7 677.1,627.5 675.1,628.7 673.3,630.3 671,631 668.8,632 667.5,634.1 665.7,635.7 663.6,636.7 662,638.5 659.8,639.5 658,641 655.9,642 653.9,643.2 651.8,644.1 649.4,644.2 647.5,645.6 645.1,645.9 643.1,647.2 641,648 638.7,648.4 636.8,650 634.7,650.9 632.6,651.8 630.2,652 628.2,653.1 626.2,654.3 624,655 621.9,656.3 619.4,656.5 616.9,657 614.8,658.3 612.8,659.8 610.5,660.7 608,661 605.8,662.3 603.5,663 601.2,664 598.8,664.8 596.3,665 594,666 591.5,666.3 589.4,667.8 587,668.2 584.3,668.5 581.9,670 579.3,670.8 579.8,673.5 580.6,676.2 581.9,678.6 580.5,681 580.7,683.9 579.3,686.3 578.4,688.5 577.1,690.4 575.6,692.3 575.5,694.8 574,696.7 572.2,698.2 569.9,699 568.5,701 566.3,701.9 564.3,703 562.3,704.1 560,704.8 557.8,705.5 556,707 553.4,707.4 550.8,706.7 548.2,706.7 545.6,707 543.4,707.7 541.5,709 539.2,709.7 537.4,711.3 535.3,712.2 532.8,712.9 530.2,713.8 527.5,713.8 525,714.8 522.9,713.8 520.7,713 518.6,712 516.8,710.4 514.6,709.6 512.5,709 510.3,708.5 508.1,708.4 505.9,707.9 503.7,707.8 501.6,707 499.1,706.1 496.3,706.3 493.9,705.1 491.3,704.4 489.3,702.8 487.1,701.7 484.6,701 482.5,699.5 480.7,697.6 478.3,696.7 475.8,697 473.3,697.2 470.9,697.6 468.5,698.5 468.2,696 468.5,693.5 467.8,691 465.1,691.5 462.5,692.5 459.9,692.3 457.3,691.8 454.3,688.8 452.9,691.1 451.3,693.3 449,695 446.4,695.9 443.8,697 441.6,698.1 440,700 438.1,698.4 437,696.3 435.2,694 433.3,691.8 430.9,693.7 428,694.8 424.9,694.9 422,694 419,691.8 416.9,693.7 415.2,696 413,697.8 410.9,699 408.7,699.7 406.3,700 404.1,699.6 401.8,699.4 399.5,699.3 396.8,697.5 395,694.8 392.7,694.7 390.5,694 393.5,695.5 394.1,698.7 395.7,701.5 395.8,704 395.2,706.5 395,709 392.5,709.6 389.9,709.7 387.5,710.5 385.3,709.4 383.2,708.2 380.8,707.5 378.5,708 376.2,708.9 373.8,709 371.8,710.1 369.5,710.4 371.1,712.6 371.7,715.3 371.3,718 372.2,720.6 372.3,723.3 371.7,726 369.5,728.7 366.8,728.1 364,728.7 362,727.6 360.4,726 360.9,722.8 360.4,719.5 360.1,716.9 360.8,714.4 361,711.8 360,709 359.7,706 358.3,704.1 356.5,702.7 354.7,701.2 352.4,699.9 350.2,698.6 347.7,697.7 345,697.4 342.4,698.2 339.7,698.1 337,698.4 334.7,698.7 332.4,699.3 330,699 327.7,700.3 325.9,702.1 323.8,703.5 322.2,705.7 320,707 317.7,707.7 315.5,708.5 313.2,709 311,710 308.6,709.5 306.6,708.2 304.5,707 302.1,706.5 300.2,704.9 298,704 296.1,702.5 294,701.6 292.1,700.1 290.1,698.9 287.8,698 285.9,696.7 284.3,694.7 282,694 281.3,691.9 280.9,689.7 280,687.6 279.7,685.4 279.1,683.3 279,681 277.7,678.8 275.9,677.2 274.3,675.2 272.8,673.3 270.8,671.7 269,670 267.2,668.5 265,668 263,667.1 261.2,665.5 259.2,664.6 257.2,663.5 255,663 253,662 250.9,661.1 248.7,661 246.7,659.7 244.6,659.2 242.2,659.4 240.3,658.1 238,658 236,656.2 234.3,654.3 233,652 232.1,649.6 230.5,647.4 229.6,645 231,642.9 232.4,640.8 233.6,638.6 235.8,636.6 238.7,635.8 241,634 243.2,632.1 245.6,630.6 248,629 248.8,626.6 250.3,624.4 251,622 254,619 252.6,616.5 250.5,614.5 249,612 246.7,611.2 244.9,609.7 242.9,608.3 241,607 239.1,604.8 238,602 236.5,599.5 236,596.5 234.5,594 232.4,593.3 230.3,592.4 228,592.5 225.7,592.8 223.7,593.8 221.8,595.3 219.7,596 217,596.7 214.3,596.9 211.5,597 210.3,595 209.2,593 208,591 209.7,589.4 211.2,587.5 213,586 212.7,583.4 211.5,581 209.2,580 207.2,578.5 205.4,576.8 203,576 200.5,574.6 197.6,574 195,572.7 193,571 191.8,568.6 189.3,567.3 188,565 185.3,564.4 183,563 180.5,562 178,561 176,559.6 174.3,558 172.7,556.3 171.6,554.1 169.6,552.7 168,551 167.3,548.7 165.9,546.8 164.9,544.7 162.7,543.3 162,541 160.6,538.6 159.5,536.2 158.9,533.5 158,531 155.6,532.2 153.2,533.5 150.5,533.9 148,535 145.6,532.8 144,530 143.6,527.7 143.4,525.4 143.9,523 143.2,520.7 142.9,518.4 143,516 141.2,514.3 140.3,512 139,510 136.8,508.4 134.6,506.8 132.5,505.1 130,504 127.4,503.4 124.8,503.9 122.2,503.8 119.6,502.9 117,503 114.8,501.4 112.3,500.3 110,499 108.2,497.6 106,496.9 104,496 105.1,493.9 106.3,491.8 108,490 109.4,488 111.7,486.9 113.7,485.6 115.5,484 117,482 115.2,480.3 113.6,478.4 112.1,476.4 110,475 109.3,472.8 108.1,470.9 106.9,469 106,467 105,465 103.9,462.9 103.1,460.6 103,458.2 102,456 99.6,455.2 97,455.4 94.5,455.4 92,455 90.8,452.1 90,449 87.3,448.7 84.7,448 82,448 80.2,446.3 78.9,444.1 76.5,443 75,441 73.8,439.1 73,437 71.9,435 71.4,432.8 70,431 70.7,428.8 71.1,426.5 71,424.2 70.6,421.8 71.5,419.6 71.8,417.3 72,415 72.5,412.5 72.7,409.9 73.7,407.5 74.5,405.1 74,402.4 75,400 76.2,398.1 76.9,395.9 78,394 79.4,392.2 80,390 81.5,388.1 82.2,385.8 82.7,383.4 84.5,381.6 84.7,379.1 85.9,377.1 87,375 87,372.3 86,369.8 85.5,367.2 85.9,364.5 85,362 85,359.6 83.8,357.4 83.4,355 82.7,352.7 82.1,350.4 82,348 80.7,346.1 80.5,343.7 78.5,342.2 77.7,340.1 77,338 75.7,336.2 74.5,334.2 74,332 73.3,329.9 72,328 70.9,325.8 69.3,323.9 68.1,321.8 65.9,320.3 65,318 64.1,315.9 64.3,313.5 62.7,311.5 62.3,309.3 62,307 61,304.5 59.7,302.1 59.1,299.5 58,297 55.4,297.5 52.8,297.3 50.2,296.5 47.6,297.4 45,297 43.4,295.3 41.1,294.7 39.8,292.7 37.7,291.7 35.8,290.4 33.6,289.6 32,288 31.1,285.5 31.5,282.8 30.4,280.3 30,277.7 30,275 28.3,273 26.3,271.2 23.6,270.2 22,268 23.7,266.3 24.4,264 25.5,261.9 26.4,259.8 28,258 30.1,257.2 32.4,257.3 34.3,255.9 36.4,255.1 38.5,254.5 40.6,253.8 42.8,253.5 45,253 47.3,252.6 49.2,250.9 51.4,250.2 53.9,250.2 56,249.4 58,248 57.7,245.6 56,243.8 55.3,241.6 55.2,239.1 53.8,237.2 53,235 52.7,232.8 51.8,230.7 50.9,228.6 50.8,226.4 50.8,224.1 50,222 50.8,219.6 51.1,217 51.5,214.5 52,212 50.4,210.5 48.6,209.1 47,207.5 45.6,205.7 43.4,204.8 42,203 42.6,200" fill="none" stroke="#000" stroke-width="4" stroke-linejoin="round"/>
<polygon points="840.3,152.9 844.9,156 851,154.4 858.6,155.2 864.8,156 866.3,164.3 867,170.5 867.8,178 874,181 880,182.7 882.3,188.8 880,191.9 875.5,193.4 877,198 883,202.6 886,205.6 887.7,211.7 885.4,217.9 883.9,224 886,228.6 892.3,230 895.3,228.6 893.8,224 895.3,217.9 896.9,211.7 898.4,205.6 900,199.5 904.5,196.5 906,190.3 910.6,182.7 916.7,179.6 921.3,178 922.9,170.5 924.4,165.9 932,164.3 938,159.8 944.3,156.7 948.9,155.2 952,149 955,144.5 959.6,139 970.3,138.3 978,136.8 987,136 994.7,134.5 1002,136.4 1010,137.2 1017.5,143.3 1026.7,133.3 1035.9,130.3 1046.6,128 1048.9,136.4 1049.6,130.3 1052.7,124.2 1061.9,130.3 1072.6,139.5 1081.7,148.6 1091,159.3 1100,162.4 1110.8,165.5 1121.5,170 1127.6,174.6 1129,179.2 1126,182.3 1132.2,183.8 1139.8,183.8 1149,186.9 1158.2,185.3 1161.2,190 1162.8,197.6 1161.2,205.2 1159.7,212.9 1156.7,222 1159.7,231.2 1155.3,240.2 1160.4,247 1157,255.6 1162,264 1165.5,276 1162,284.6 1151.9,288 1157,291.4 1162,294.8 1165.5,303.4 1162,315.3 1162,322 1153.6,325.5 1143.3,329 1141.6,339.2 1140,349.4 1131.4,346 1126.3,339.2 1119.4,334 1109.2,330.7 1102.4,329 1095.5,334 1085.3,339.2 1071.7,344.3 1061.4,349.4 1059.7,358 1054.6,364.8 1046,370 1037.5,366.5 1027.3,363 1017,359.7 1008.5,356.3 999,356 992.5,357.6 983,359 976.6,364 975,372 972,372 970.3,364 962.3,360.7 954.4,360.7 948,365.5 938.5,360.7 935.3,352.8 927.4,348 917.9,340 917.9,333.7 922.6,330.6 924.2,325.8 919.4,319.4 910,317.9 906.7,310 898.8,303.6 892.4,300.4 883,292.4 879.7,284.5 873.4,279.7 865.4,276.5 867,268.6 864,260.7 856,256 851,249.5 852,240.8 855.6,234.7 857,230 858.6,224 857,217.9 854,211.7 849.5,205.6 846.4,199.5 843.3,195 834.2,188.8 831.1,182.7 834.2,178 840.3,176.6 844.9,173.5 844.9,164.3 843.3,158.2 839.5,156" fill="#eaa59b"/>
<polygon points="919.8,181 921.3,178 922.9,170.5 924.4,165.9 932,164.3 938,159.8 944.3,156.7 948.9,155.2 952,149 955,144.5 959.6,139 970.3,138.3 978,136.8 987,136 994.7,134.5 1002,136.4 1003.8,136.4 1005.3,142.5 1003.8,150.2 1000.7,159.3 999.2,168.5 1002.2,179.2 1006.8,188.4 999.2,194.5 997.6,203.7 993.2,202.6 990,207 984,205.6 978,208.7 971.8,210.2 962.6,210.2 955,205.6 947.3,199.5 938,198 932,193.4 926,188.8" fill="#d27060"/>
<polygon points="938,198 947.3,199.5 955,205.6 962.6,210.2 971.8,210.2 978,208.7 984,205.6 990,207 993.2,202.6 997.6,203.7 999.2,194.5 1008.3,191.5 1013,200.6 1019,206.7 1022,219 1020.6,229.7 1020.5,236.8 1025.6,243.6 1034,245.4 1041,248.8 1034,252.2 1041,257.3 1041,271 1034,276 1041,279.5 1035.8,286.3 1023.9,293 1025.6,301.7 1025.6,310.2 1017,305 1010.2,301.7 1000,294.8 998.9,290.8 987.8,292.4 979.8,295.6 978.2,287.7 975,290.8 967.1,294 962.3,297.2 957.6,292.4 957.6,283 946.5,278 943.3,267 933.7,260.7 935.3,248 941.7,244.8 944.9,240 942.7,234.7 944.3,227 947.3,219.4 944.3,211.7 939.7,205.6" fill="#fde0df"/>
<g fill="none" stroke="#000" stroke-width="1.1" stroke-linejoin="round">
<polyline points="855.6,236 861.7,237.7 867.8,238.5 870.9,242.3 875.5,240.8 880,236 884.6,231.6 886,228.6"/>
<polyline points="962.6,210.2 955,205.6 947.3,199.5 938,198 932,193.4 926,188.8 919.8,181"/>
<polyline points="938,198 947.3,199.5 955,205.6 962.6,210.2 971.8,210.2 978,208.7 984,205.6 990,207 993.2,202.6 997.6,203.7 999.2,194.5 1008.3,191.5 1013,200.6 1019,206.7 1022,219 1020.6,229.7 1020.5,236.8 1025.6,243.6 1034,245.4 1041,248.8 1034,252.2 1041,257.3 1041,271 1034,276 1041,279.5 1035.8,286.3 1023.9,293 1025.6,301.7 1025.6,310.2 1017,305 1010.2,301.7 1000,294.8 998.9,290.8 987.8,292.4 979.8,295.6 978.2,287.7 975,290.8 967.1,294 962.3,297.2 957.6,292.4 957.6,283 946.5,278 943.3,267 933.7,260.7 935.3,248 941.7,244.8 944.9,240 942.7,234.7 944.3,227 947.3,219.4 944.3,211.7 939.7,205.6 938,198"/>
<polyline points="1002,136.4 1003.8,136.4 1005.3,142.5 1003.8,150.2 1000.7,159.3 999.2,168.5 1002.2,179.2 1006.8,188.4 999.2,194.5 997.6,203.7"/>
<polyline points="1017.5,143.3 1019,150.2 1026.7,156.3 1031.3,164 1037.4,171.6 1043.5,182.3 1045,193 1048,203.7 1058.8,208.3 1069.5,211.3 1075.6,212.9 1087.9,211.3 1095.5,216 1100,206.7 1107.7,200.6 1112.3,194.5 1118.4,188.4 1123,183.8 1126,182.3"/>
<polyline points="962.3,297.2 968.7,303.6 960.8,310 954.4,317.9 944.9,321 935.3,314.7 932.2,322.6 927.4,327.4 924.2,325.8"/>
<polyline points="1025.6,310.2 1034,318.7 1037.5,329 1054.6,329 1056.3,339.2 1049.5,344.3 1051.2,349.4 1059.7,349.4"/>
</g>
<polygon points="840.3,152.9 842.5,154.6 844.9,156 848,155.4 851,154.4 853.5,155 856,155.4 858.6,155.2 861.7,155.8 864.8,156 864.9,158.8 866.3,161.4 866.3,164.3 866.7,167.4 867,170.5 866.8,173 867.4,175.5 867.8,178 869.7,179.4 872.1,179.7 874,181 877,181.8 880,182.7 881.4,185.7 882.3,188.8 880,191.9 877.7,192.6 875.5,193.4 876.2,195.7 877,198 879.3,199.1 881.2,200.8 883,202.6 886,205.6 887.1,208.6 887.7,211.7 886.5,213.6 885.9,215.7 885.4,217.9 885,221 883.9,224 884.7,226.4 886,228.6 889.2,228.9 892.3,230 895.3,228.6 894.7,226.3 893.8,224 894.2,220.9 895.3,217.9 895.6,214.7 896.9,211.7 898,208.7 898.4,205.6 898.9,202.5 900,199.5 902.1,197.8 904.5,196.5 905.7,193.5 906,190.3 907.5,188.6 908.1,186.4 909.8,184.8 910.6,182.7 912.7,181.7 914.7,180.8 916.7,179.6 918.9,178.5 921.3,178 922.3,175.6 922.6,173 922.9,170.5 924.1,168.3 924.4,165.9 927,165.8 929.4,164.6 932,164.3 933.9,162.7 935.8,161 938,159.8 939.9,158.4 942,157.3 944.3,156.7 946.5,155.8 948.9,155.2 950,153.2 950.5,150.8 952,149 953.6,146.8 955,144.5 956.4,142.6 957.9,140.7 959.6,139 962.3,139.1 964.9,138.6 967.6,138.3 970.3,138.3 972.9,137.8 975.5,137.5 978,136.8 980.2,136.2 982.5,136.9 984.7,135.7 987,136 989.6,135.7 992.2,135.3 994.7,134.5 997.3,134.7 999.5,136 1002,136.4 1004.7,136.5 1007.3,137 1010,137.2 1012.2,138.3 1014,139.9 1015.8,141.5 1017.5,143.3 1019.4,141.9 1020.3,139.8 1022.3,138.5 1023.9,136.9 1025.5,135.3 1026.7,133.3 1029,132.4 1031.3,131.7 1033.6,131.1 1035.9,130.3 1038.6,130 1041.2,128.8 1044,128.8 1046.6,128 1047.1,130.9 1047.8,133.7 1048.9,136.4 1048.8,133.3 1049.6,130.3 1051,128.5 1051.3,126 1052.7,124.2 1054.6,125.3 1056.3,126.7 1058,128.2 1060.1,128.9 1061.9,130.3 1063.4,132.2 1065.4,133.4 1067.4,134.8 1069.2,136.3 1071,137.7 1072.6,139.5 1074.7,141 1076.5,142.9 1077.9,145.1 1079.5,147.1 1081.7,148.6 1083.5,150.2 1085.1,151.9 1086,154.3 1087.9,155.8 1089.5,157.5 1091,159.3 1093.3,159.8 1095.5,160.9 1097.6,161.9 1100,162.4 1102.2,163 1104.3,163.6 1106.6,163.8 1108.5,165.3 1110.8,165.5 1113.1,166 1115.1,167.3 1117.1,168.5 1119.5,168.8 1121.5,170 1123.4,171.7 1125.3,173.4 1127.6,174.6 1128.2,176.9 1129,179.2 1126,182.3 1129,183.3 1132.2,183.8 1134.7,183.4 1137.3,183.7 1139.8,183.8 1142.2,184.2 1144.3,185.7 1146.8,185.9 1149,186.9 1151.3,186.5 1153.7,186.6 1156,186 1158.2,185.3 1159.3,187.9 1161.2,190 1161.8,192.5 1162.3,195.1 1162.8,197.6 1162,200.1 1161.8,202.7 1161.2,205.2 1160.9,207.8 1160.3,210.4 1159.7,212.9 1159.3,215.3 1158.3,217.5 1157,219.6 1156.7,222 1157,224.4 1158.1,226.6 1159,228.9 1159.7,231.2 1158.7,233.5 1157.9,235.9 1156.6,238.1 1155.3,240.2 1156.8,242.6 1158.4,245 1160.4,247 1159.7,249.2 1158.4,251.2 1157.6,253.3 1157,255.6 1158.1,257.8 1159.4,259.9 1160.5,262 1162,264 1162.8,266.4 1163.2,268.9 1164.3,271.1 1164.8,273.6 1165.5,276 1164.4,278 1163.6,280.2 1163.1,282.5 1162,284.6 1159.3,285 1156.9,286.2 1154.4,287.1 1151.9,288 1154.7,289.3 1157,291.4 1159.5,293.1 1162,294.8 1163.1,296.9 1163.6,299.2 1164.7,301.2 1165.5,303.4 1164.5,305.7 1164,308.1 1163.1,310.5 1162.8,313 1162,315.3 1161.9,317.5 1161.8,319.8 1162,322 1159.8,322.6 1157.9,323.9 1155.6,324.3 1153.6,325.5 1150.9,326 1148.4,327.1 1145.7,327.7 1143.3,329 1142.4,331.5 1142.4,334.1 1142,336.6 1141.6,339.2 1141.5,341.8 1140.5,344.2 1140,346.8 1140,349.4 1137.8,348.6 1135.8,347.5 1133.6,346.6 1131.4,346 1129.9,343.6 1127.7,341.7 1126.3,339.2 1124.2,337.2 1121.7,335.7 1119.4,334 1116.9,333 1114.3,332.4 1111.8,331.4 1109.2,330.7 1107,329.9 1104.7,329.4 1102.4,329 1100,330.5 1098.1,332.7 1095.5,334 1093.6,335.3 1091.4,336.1 1089.3,337 1087.5,338.4 1085.3,339.2 1083,339.9 1080.7,340.8 1078.7,342.2 1076.2,342.6 1074.1,343.7 1071.7,344.3 1069.8,345.7 1067.7,346.7 1065.6,347.5 1063.6,348.7 1061.4,349.4 1061.1,352.3 1060.7,355.2 1059.7,358 1058,360.3 1056.4,362.6 1054.6,364.8 1052.4,366 1050.3,367.3 1048.3,368.9 1046,370 1044,368.8 1041.6,368.7 1039.6,367.5 1037.5,366.5 1034.9,365.8 1032.4,364.8 1029.7,364.2 1027.3,363 1024.8,361.9 1022.1,361.5 1019.4,361 1017,359.7 1014.9,358.7 1012.6,358.4 1010.6,357.1 1008.5,356.3 1006.1,356.4 1003.8,356.1 1001.4,355.6 999,356 996.8,356.2 994.7,357.1 992.5,357.6 990.1,357.6 987.7,358.2 985.4,358.8 983,359 981.1,360.9 978.7,362.3 976.6,364 976,366.7 975.1,369.2 975,372 972,372 971.9,369.2 971,366.6 970.3,364 967.6,363 965.1,361.4 962.3,360.7 959.7,361.2 957,361.1 954.4,360.7 952.2,362.2 950.1,363.8 948,365.5 945.5,364.6 943.3,363 941.1,361.6 938.5,360.7 937.3,358.1 936.3,355.5 935.3,352.8 933.2,351.8 931.2,350.6 929.6,348.8 927.4,348 925.4,346.5 923.9,344.4 922,342.9 919.9,341.5 917.9,340 917.7,336.9 917.9,333.7 920.5,332.6 922.6,330.6 923.4,328.2 924.2,325.8 922.5,323.7 920.9,321.6 919.4,319.4 917.1,318.5 914.7,318.7 912.3,318.5 910,317.9 908.9,315.3 907.5,312.8 906.7,310 904.8,308.3 902.7,306.8 900.6,305.4 898.8,303.6 896.8,302.3 894.7,301.2 892.4,300.4 890.2,299.2 888.7,297.2 886.6,295.8 885.2,293.7 883,292.4 882.2,289.7 880.6,287.2 879.7,284.5 877.5,283.1 875.3,281.6 873.4,279.7 870.9,278.2 868,277.8 865.4,276.5 866,273.9 866.4,271.2 867,268.6 866.1,265.9 865.1,263.3 864,260.7 862.1,259.3 859.8,258.7 858.1,257 856,256 854.2,254 852.7,251.6 851,249.5 851.2,246.6 851.5,243.7 852,240.8 853.2,238.8 854.4,236.7 855.6,234.7 856.2,232.3 857,230 858,227.1 858.6,224 857.9,220.9 857,217.9 855.6,216 854.8,213.9 854,211.7 852.5,209.7 851.3,207.4 849.5,205.6 848.8,203.4 847.5,201.5 846.4,199.5 844.5,197.5 843.3,195 841.6,193.5 839.6,192.6 837.9,191.2 836.1,189.9 834.2,188.8 833.3,186.7 832.1,184.7 831.1,182.7 833,180.6 834.2,178 837.2,177.2 840.3,176.6 842.5,175 844.9,173.5 845.3,171.2 844.6,168.9 844.7,166.6 844.9,164.3 844.4,161.2 843.3,158.2 839.5,156" fill="none" stroke="#000" stroke-width="2.6" stroke-linejoin="round"/>
<circle cx="110.7" cy="321.7" r="4.8" fill="#fff" stroke="#000" stroke-width="1.6"/>
<circle cx="296.5" cy="253" r="4.8" fill="#fff" stroke="#000" stroke-width="1.6"/>
<circle cx="188.9" cy="499.7" r="7" fill="#fff" stroke="#000" stroke-width="1.6"/>
<circle cx="415" cy="430" r="7" fill="#fff" stroke="#000" stroke-width="1.6"/>
<circle cx="552.2" cy="388.3" r="7" fill="#fff" stroke="#000" stroke-width="1.6"/>
<circle cx="634" cy="294" r="4.8" fill="#fff" stroke="#000" stroke-width="1.6"/>
<circle cx="396" cy="628" r="4.8" fill="#fff" stroke="#000" stroke-width="1.6"/>
<text x="111.7" y="342.7" class="cl" font-size="12.4" text-anchor="middle" stroke="#000" stroke-width="3.3" stroke-linejoin="round">Aš</text>
<text x="111.7" y="342.7" class="cl" font-size="12.4" text-anchor="middle" fill="#fff">Aš</text>
<text x="295.5" y="272" class="cl" font-size="12.2" text-anchor="middle" stroke="#000" stroke-width="3.3" stroke-linejoin="round">Kraslice</text>
<text x="295.5" y="272" class="cl" font-size="12.2" text-anchor="middle" fill="#fff">Kraslice</text>
<text x="188.8" y="521.5" class="cl" font-size="13.8" text-anchor="middle" stroke="#000" stroke-width="3.3" stroke-linejoin="round">Cheb</text>
<text x="188.8" y="521.5" class="cl" font-size="13.8" text-anchor="middle" fill="#fff">Cheb</text>
<text x="416.6" y="454" class="cl" font-size="13.8" text-anchor="middle" stroke="#000" stroke-width="3.3" stroke-linejoin="round">Sokolov</text>
<text x="416.6" y="454" class="cl" font-size="13.8" text-anchor="middle" fill="#fff">Sokolov</text>
<text x="557.8" y="409.8" class="cl" font-size="13.8" text-anchor="middle" stroke="#000" stroke-width="3.3" stroke-linejoin="round">Karlovy Vary</text>
<text x="557.8" y="409.8" class="cl" font-size="13.8" text-anchor="middle" fill="#fff">Karlovy Vary</text>
<text x="631" y="312.3" class="cl" font-size="12.2" text-anchor="middle" stroke="#000" stroke-width="3.3" stroke-linejoin="round">Ostrov</text>
<text x="631" y="312.3" class="cl" font-size="12.2" text-anchor="middle" fill="#fff">Ostrov</text>
<text x="395.9" y="647.8" class="cl" font-size="12.4" text-anchor="middle" stroke="#000" stroke-width="3.3" stroke-linejoin="round">Mariánské Lázně</text>
<text x="395.9" y="647.8" class="cl" font-size="12.4" text-anchor="middle" fill="#fff">Mariánské Lázně</text>
<rect x="869" y="465" width="60.5" height="21.5" fill="#fde0df"/>
<rect x="929" y="465" width="61.5" height="21.5" fill="#eaa59b"/>
<rect x="990" y="465" width="61.5" height="21.5" fill="#d27060"/>
<rect x="1051" y="465" width="62.5" height="21.5" fill="#b14232"/>
<rect x="1113" y="465" width="61.5" height="21.5" fill="#910b0d"/>
<text x="929" y="506.3" class="lg" text-anchor="middle">10</text>
<text x="990" y="506.3" class="lg" text-anchor="middle">15</text>
<text x="1051" y="506.3" class="lg" text-anchor="middle">20</text>
<text x="1113" y="506.3" class="lg" text-anchor="middle">25</text>
<rect x="20.5" y="805.5" width="40" height="19" fill="url(#dots)" stroke="#444" stroke-width="1"/>
<circle cx="41" cy="733" r="4.6" fill="#fff" stroke="#000" stroke-width="1.5"/>
<circle cx="40.6" cy="760.4" r="6.6" fill="#fff" stroke="#000" stroke-width="1.5"/>
<text x="165" y="44.5" font-size="24.1" font-weight="bold" fill="#111" style="">Neobydlené byty v obcích a správních obvodech ORP Karlovarského kraje</text>
<text x="870" y="433.7" font-size="15.5" font-weight="bold" fill="#111" style="">podíl neobydlených bytů na celkovém</text>
<text x="870" y="450.7" font-size="15.5" font-weight="bold" fill="#111" style="">bytovém fondu (%)</text>
<text x="871" y="574" font-size="15.5"  fill="#111" style="">hodnota kraje = 11,6</text>
<text x="871" y="610.5" font-size="15.5"  fill="#111" style="">minimální hodnota:</text>
<text x="871" y="628.3" font-size="15.5"  fill="#111" style="">obec - Chodov (4,2) (ORP Sokolov)</text>
<text x="871" y="646" font-size="15.5"  fill="#111" style="">ORP - Sokolov (8,3)</text>
<text x="871" y="682.5" font-size="15.5"  fill="#111" style="">maximální hodnota:</text>
<text x="871" y="700.3" font-size="15.5"  fill="#111" style="">obec - Bublava (43,11) (ORP Kraslice)</text>
<text x="871" y="718" font-size="15.5"  fill="#111" style="">ORP - Kraslice (15,3)</text>
<text x="21" y="691.6" font-size="15.5" font-weight="bold" fill="#111" style="">sídlo SO ORP</text>
<text x="21" y="710" font-size="15.5" font-weight="bold" fill="#111" style="">s počtem obyvatel</text>
<text x="68" y="738" font-size="14.5"  fill="#111" style="word-spacing:1.7px">5 000 - 19 999</text>
<text x="68" y="765" font-size="14.5"  fill="#111" style="word-spacing:2px">20 000 - 49 999</text>
<text x="69" y="820" font-size="14"  fill="#111" style="">Vojenský újezd Hradiště</text>
<text x="1011.7" y="821.7" font-size="15.5"  fill="#111" style="">Zdroj: ČSÚ, SLDB 2011</text>
</svg>
</body></html>
